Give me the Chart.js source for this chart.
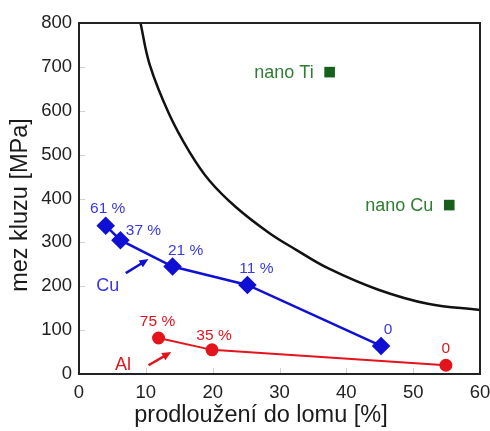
<!DOCTYPE html>
<html>
<head>
<meta charset="utf-8">
<script src="https://cdn.jsdelivr.net/npm/chart.js@4/dist/chart.umd.min.js"></script>
<style>
  html, body { margin: 0; padding: 0; background: #fff; }
  canvas { display: block; }
</style>
</head>
<body>
<canvas id="chart" width="490" height="431"></canvas>
<script>
// hodnoty
const cuElong = [4, 6.2, 14, 25.2, 45.2];
const cuYield = [338, 305, 245, 203, 64];
const cuLabels = ['61 %', '37 %', '21 %', '11 %', '0'];

const alElong = [11.9, 19.9, 54.9];
const alYield = [82, 55, 20];
const alLabels = ['75 %', '35 %', '0'];

const nanoNames = ['nano Ti', 'nano Cu'];
const nanoElong = [37.5, 55.4];
const nanoYield = [688, 385];

// hranicni krivka
const curveElong = [9.2, 10.6, 13.5, 16.5, 19.5, 23.5, 28.4, 32.5, 37.4, 44.8, 52.2, 60];
const curveYield = [800, 704, 592, 507, 441, 380, 322, 283, 240, 192, 160, 146];

const xTicks = [0, 10, 20, 30, 40, 50, 60];
const yTicks = [0, 100, 200, 300, 400, 500, 600, 700, 800];

// posun popisku bodu v pixelech
const cuLabelOffsets = [[2, -17], [23, -9], [13, -16], [9, -16], [7, -16]];
const alLabelOffsets = [[-1, -16], [2, -14], [0, -17]];

const BLUE = '#1010d4';
const BLUE_TEXT = '#3838e4';
const RED = '#e3141c';
const GREEN = '#17601c';
const GREEN_TEXT = '#2e7d32';
const FONT = '"Liberation Sans", Arial, sans-serif';

const toPts = (xs, ys) => xs.map((x, i) => ({ x: x, y: ys[i] }));

const decorations = {
  id: 'decorations',
  afterDatasetsDraw(chart) {
    const { ctx, chartArea: a, scales: { x, y } } = chart;
    ctx.save();

    // kratke vnitrni znacky
    ctx.strokeStyle = '#d0d0d0';
    ctx.lineWidth = 1;
    xTicks.slice(1, -1).forEach(v => {
      const px = Math.round(x.getPixelForValue(v)) + 0.5;
      ctx.beginPath(); ctx.moveTo(px, a.bottom); ctx.lineTo(px, a.bottom - 6); ctx.stroke();
    });
    yTicks.slice(1, -1).forEach(v => {
      const py = Math.round(y.getPixelForValue(v)) + 0.5;
      ctx.beginPath(); ctx.moveTo(a.left, py); ctx.lineTo(a.left + 6, py); ctx.stroke();
    });

    // ramecek
    ctx.strokeStyle = '#222';
    ctx.lineWidth = 2;
    ctx.strokeRect(a.left, a.top, a.right - a.left, a.bottom - a.top);

    // popisky bodu
    ctx.font = '15.5px ' + FONT;
    ctx.textAlign = 'center';
    ctx.textBaseline = 'middle';
    ctx.fillStyle = BLUE_TEXT;
    cuLabels.forEach((t, i) => {
      ctx.fillText(t, x.getPixelForValue(cuElong[i]) + cuLabelOffsets[i][0],
                      y.getPixelForValue(cuYield[i]) + cuLabelOffsets[i][1]);
    });
    ctx.fillStyle = RED;
    alLabels.forEach((t, i) => {
      ctx.fillText(t, x.getPixelForValue(alElong[i]) + alLabelOffsets[i][0],
                      y.getPixelForValue(alYield[i]) + alLabelOffsets[i][1]);
    });

    // nano popisky
    ctx.font = '18px ' + FONT;
    ctx.textAlign = 'right';
    ctx.fillStyle = GREEN_TEXT;
    nanoNames.forEach((t, i) => {
      ctx.fillText(t, x.getPixelForValue(nanoElong[i]) - 16, y.getPixelForValue(nanoYield[i]) + 1);
    });

    // Cu, Al + sipky
    ctx.font = '18px ' + FONT;
    ctx.textAlign = 'center';
    ctx.fillStyle = BLUE_TEXT;
    ctx.fillText('Cu', x.getPixelForValue(4.3), y.getPixelForValue(200));
    ctx.fillStyle = RED;
    ctx.fillText('Al', x.getPixelForValue(6.6), y.getPixelForValue(20));

    const arrow = (x0, y0, x1, y1, color) => {
      const p0 = [x.getPixelForValue(x0), y.getPixelForValue(y0)];
      const p1 = [x.getPixelForValue(x1), y.getPixelForValue(y1)];
      const ang = Math.atan2(p1[1] - p0[1], p1[0] - p0[0]);
      ctx.strokeStyle = color;
      ctx.fillStyle = color;
      ctx.lineWidth = 2.5;
      ctx.beginPath();
      ctx.moveTo(p0[0], p0[1]);
      ctx.lineTo(p1[0] - 6 * Math.cos(ang), p1[1] - 6 * Math.sin(ang));
      ctx.stroke();
      ctx.beginPath();
      ctx.moveTo(p1[0], p1[1]);
      ctx.lineTo(p1[0] - 10 * Math.cos(ang - 0.42), p1[1] - 10 * Math.sin(ang - 0.42));
      ctx.lineTo(p1[0] - 10 * Math.cos(ang + 0.42), p1[1] - 10 * Math.sin(ang + 0.42));
      ctx.closePath();
      ctx.fill();
    };
    arrow(7.0, 230, 10.4, 262, BLUE);
    arrow(10.4, 20, 13.8, 50, RED);

    // nazvy os
    ctx.fillStyle = '#1a1a1a';
    ctx.font = '23.5px ' + FONT;
    ctx.textAlign = 'center';
    ctx.fillText('prodloužení do lomu [%]', 261, 416);
    ctx.translate(21, 205);
    ctx.rotate(-Math.PI / 2);
    ctx.fillText('mez kluzu [MPa]', 0, 0);

    ctx.restore();
  }
};

new Chart(document.getElementById('chart'), {
  type: 'scatter',
  data: {
    datasets: [
      {
        label: 'krivka',
        data: toPts(curveElong, curveYield),
        showLine: true,
        borderColor: '#111',
        borderWidth: 2.5,
        pointRadius: 0,
        tension: 0.4
      },
      {
        label: 'Cu',
        data: toPts(cuElong, cuYield),
        showLine: true,
        borderColor: BLUE,
        backgroundColor: BLUE,
        borderWidth: 2.5,
        pointStyle: 'rectRot',
        pointRadius: 7.5
      },
      {
        label: 'Al',
        data: toPts(alElong, alYield),
        showLine: true,
        borderColor: RED,
        backgroundColor: RED,
        borderWidth: 2,
        pointStyle: 'circle',
        pointRadius: 5.5
      },
      {
        label: 'nano',
        data: toPts(nanoElong, nanoYield),
        showLine: false,
        borderColor: GREEN,
        backgroundColor: GREEN,
        borderWidth: 0,
        pointStyle: 'rect',
        pointRadius: 7.5
      }
    ]
  },
  options: {
    responsive: false,
    animation: false,
    layout: { padding: { top: 23, right: 8, left: 0, bottom: 0 } },
    plugins: { legend: { display: false }, tooltip: { enabled: false } },
    scales: {
      x: {
        type: 'linear',
        min: 0, max: 60,
        afterBuildTicks: s => { s.ticks = xTicks.map(v => ({ value: v })); },
        afterFit: s => { s.height = 57; s.paddingLeft = 0; s.paddingRight = 0; },
        grid: { display: false, drawTicks: false },
        border: { display: false },
        ticks: { color: '#222', font: { family: FONT, size: 18.5 }, padding: 8, maxRotation: 0 }
      },
      y: {
        type: 'linear',
        min: 0, max: 800,
        afterBuildTicks: s => { s.ticks = yTicks.map(v => ({ value: v })); },
        afterFit: s => { s.width = 79; s.paddingTop = 0; s.paddingBottom = 0; },
        grid: { display: false, drawTicks: false },
        border: { display: false },
        ticks: { color: '#222', font: { family: FONT, size: 18.5 }, padding: 7 }
      }
    }
  },
  plugins: [decorations]
});
</script>
</body>
</html>
